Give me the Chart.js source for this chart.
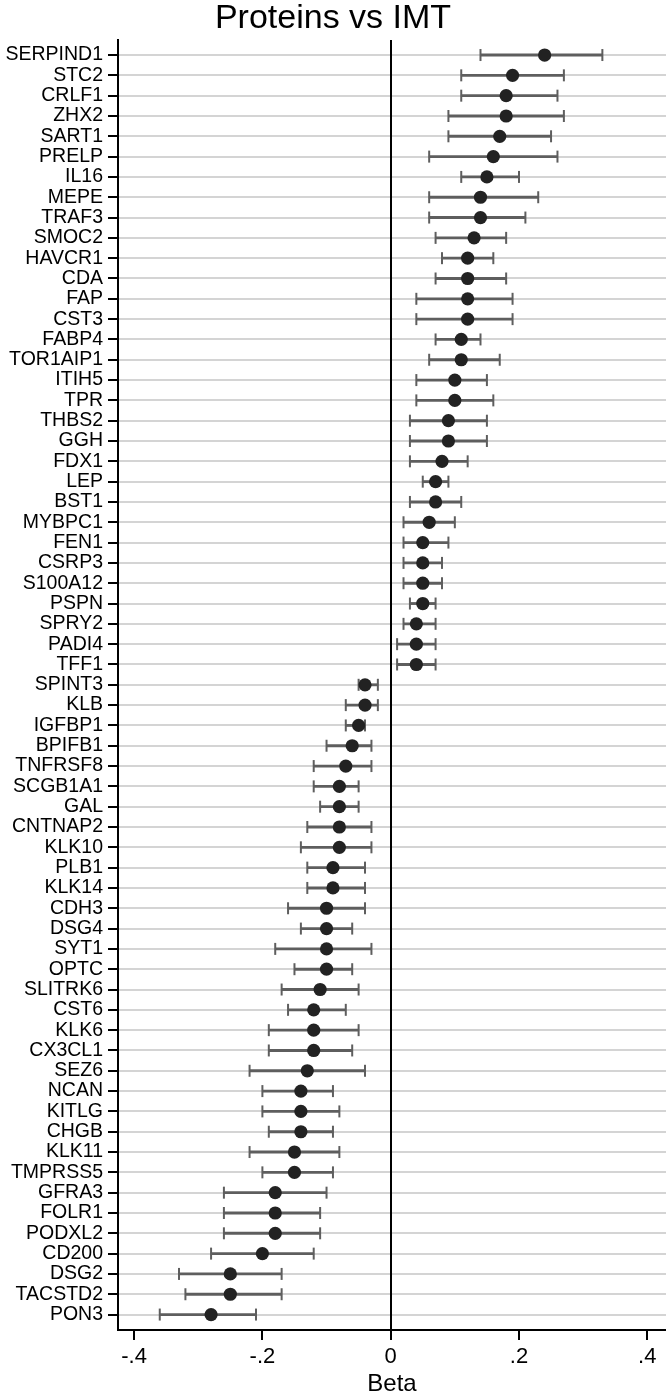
<!DOCTYPE html>
<html>
<head>
<meta charset="utf-8">
<title>Proteins vs IMT</title>
<script src="https://cdn.jsdelivr.net/npm/chart.js@4.4.1/dist/chart.umd.min.js"></script>
<style>
  html, body { margin: 0; padding: 0; background: #fff; }
  canvas { display: block; }
</style>
</head>
<body>
<canvas id="forest" width="666" height="1395"></canvas>
<script>
const proteins = ['SERPIND1', 'STC2', 'CRLF1', 'ZHX2', 'SART1', 'PRELP', 'IL16', 'MEPE', 'TRAF3', 'SMOC2',
  'HAVCR1', 'CDA', 'FAP', 'CST3', 'FABP4', 'TOR1AIP1', 'ITIH5', 'TPR', 'THBS2', 'GGH',
  'FDX1', 'LEP', 'BST1', 'MYBPC1', 'FEN1', 'CSRP3', 'S100A12', 'PSPN', 'SPRY2', 'PADI4',
  'TFF1', 'SPINT3', 'KLB', 'IGFBP1', 'BPIFB1', 'TNFRSF8', 'SCGB1A1', 'GAL', 'CNTNAP2', 'KLK10',
  'PLB1', 'KLK14', 'CDH3', 'DSG4', 'SYT1', 'OPTC', 'SLITRK6', 'CST6', 'KLK6', 'CX3CL1',
  'SEZ6', 'NCAN', 'KITLG', 'CHGB', 'KLK11', 'TMPRSS5', 'GFRA3', 'FOLR1', 'PODXL2', 'CD200',
  'DSG2', 'TACSTD2', 'PON3'];

const beta = [0.24, 0.19, 0.18, 0.18, 0.17, 0.16, 0.15, 0.14, 0.14, 0.13,
  0.12, 0.12, 0.12, 0.12, 0.11, 0.11, 0.10, 0.10, 0.09, 0.09,
  0.08, 0.07, 0.07, 0.06, 0.05, 0.05, 0.05, 0.05, 0.04, 0.04,
  0.04, -0.04, -0.04, -0.05, -0.06, -0.07, -0.08, -0.08, -0.08, -0.08,
  -0.09, -0.09, -0.10, -0.10, -0.10, -0.10, -0.11, -0.12, -0.12, -0.12,
  -0.13, -0.14, -0.14, -0.14, -0.15, -0.15, -0.18, -0.18, -0.18, -0.20,
  -0.25, -0.25, -0.28];

const lower = [0.14, 0.11, 0.11, 0.09, 0.09, 0.06, 0.11, 0.06, 0.06, 0.07,
  0.08, 0.07, 0.04, 0.04, 0.07, 0.06, 0.04, 0.04, 0.03, 0.03,
  0.03, 0.05, 0.03, 0.02, 0.02, 0.02, 0.02, 0.03, 0.02, 0.01,
  0.01, -0.05, -0.07, -0.07, -0.10, -0.12, -0.12, -0.11, -0.13, -0.14,
  -0.13, -0.13, -0.16, -0.14, -0.18, -0.15, -0.17, -0.16, -0.19, -0.19,
  -0.22, -0.20, -0.20, -0.19, -0.22, -0.20, -0.26, -0.26, -0.26, -0.28,
  -0.33, -0.32, -0.36];

const upper = [0.33, 0.27, 0.26, 0.27, 0.25, 0.26, 0.20, 0.23, 0.21, 0.18,
  0.16, 0.18, 0.19, 0.19, 0.14, 0.17, 0.15, 0.16, 0.15, 0.15,
  0.12, 0.09, 0.11, 0.10, 0.09, 0.08, 0.08, 0.07, 0.07, 0.07,
  0.07, -0.02, -0.02, -0.04, -0.03, -0.03, -0.05, -0.05, -0.03, -0.03,
  -0.04, -0.04, -0.04, -0.06, -0.03, -0.06, -0.05, -0.07, -0.05, -0.06,
  -0.04, -0.09, -0.08, -0.09, -0.08, -0.09, -0.10, -0.11, -0.11, -0.12,
  -0.17, -0.17, -0.21];

const xTicks = [-0.4, -0.2, 0, 0.2, 0.4];

const FONT = '"Liberation Sans", Arial, Helvetica, sans-serif';
const barGray = '#5e5e5e';

Chart.defaults.color = '#000';
Chart.defaults.font.family = FONT;

const ctx = document.getElementById('forest').getContext('2d');

// keep the plot frame at fixed size, no extra room for edge labels
function fixBox(size) {
  return scale => {
    if (scale.isHorizontal()) scale.height = size;
    else scale.width = size;
    scale.paddingLeft = 0;
    scale.paddingRight = 0;
    scale.paddingTop = 0;
    scale.paddingBottom = 0;
  };
}

new Chart(ctx, {
  type: 'bar',
  data: {
    datasets: [
      {
        type: 'scatter',
        label: 'Beta',
        data: beta.map((b, i) => ({ x: b, y: i })),
        backgroundColor: '#222',
        borderColor: '#222',
        pointRadius: 6.6,
        borderWidth: 0,
        order: 1
      },
      {
        type: 'scatter',
        label: 'lower cap',
        data: lower.map((v, i) => ({ x: v, y: i })),
        pointStyle: 'line',
        rotation: 90,
        pointRadius: 6,
        borderColor: barGray,
        borderWidth: 2,
        order: 2
      },
      {
        type: 'scatter',
        label: 'upper cap',
        data: upper.map((v, i) => ({ x: v, y: i })),
        pointStyle: 'line',
        rotation: 90,
        pointRadius: 6,
        borderColor: barGray,
        borderWidth: 2,
        order: 2
      },
      {
        type: 'bar',
        label: 'CI',
        data: lower.map((v, i) => ({ x: [v, upper[i]], y: i })),
        backgroundColor: barGray,
        barThickness: 2.2,
        grouped: false,
        order: 3
      }
    ]
  },
  options: {
    responsive: false,
    animation: false,
    indexAxis: 'y',
    layout: { padding: 0, autoPadding: false },
    plugins: {
      legend: { display: false },
      tooltip: { enabled: false },
      title: {
        display: true,
        text: 'Proteins vs IMT',
        color: '#000',
        font: { size: 34, weight: 'normal', lineHeight: 1 },
        padding: { top: 2, bottom: 4 }
      }
    },
    scales: {
      y: {
        type: 'linear',
        reverse: true,
        offset: false,
        min: -0.74,
        max: 62.76,
        afterBuildTicks: scale => { scale.ticks = proteins.map((_, i) => ({ value: i })); },
        afterFit: fixBox(118),
        ticks: {
          autoSkip: false,
          padding: 5,
          color: '#000',
          font: { size: 19.5 },
          callback: v => proteins[v]
        },
        grid: {
          offset: false,
          color: '#d4d4d4',
          lineWidth: 2,
          tickColor: '#000',
          tickLength: 10,
          tickWidth: 2
        },
        border: { color: '#000', width: 2 }
      },
      x: {
        type: 'linear',
        offset: false,
        min: -0.4251,
        max: 0.4292,
        afterBuildTicks: scale => { scale.ticks = xTicks.map(v => ({ value: v })); },
        afterFit: fixBox(65),
        ticks: {
          autoSkip: false,
          maxRotation: 0,
          padding: 4,
          color: '#000',
          font: { size: 22 },
          callback: v => v === 0 ? '0' : (v < 0 ? '-' : '') + String(Math.abs(v)).replace(/^0/, '')
        },
        grid: {
          z: -0.5,
          offset: false,
          color: c => (c.tick && c.tick.value === 0) ? '#000' : 'rgba(0,0,0,0)',
          lineWidth: 2,
          tickColor: '#000',
          tickLength: 10,
          tickWidth: 2
        },
        border: { color: '#000', width: 2 },
        title: {
          display: true,
          text: 'Beta',
          color: '#000',
          font: { size: 24, lineHeight: 0.9 },
          padding: { top: 0, bottom: 0 }
        }
      }
    }
  }
});
</script>
</body>
</html>
